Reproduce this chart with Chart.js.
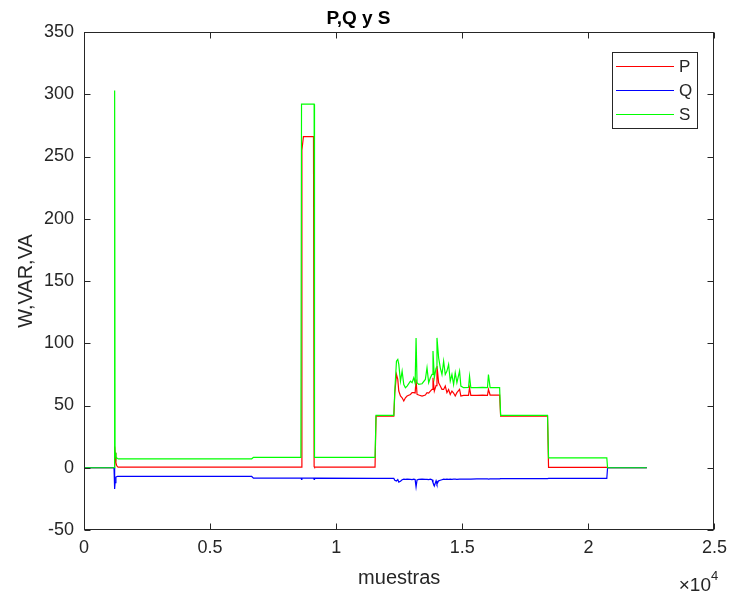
<!DOCTYPE html>
<html>
<head>
<meta charset="utf-8">
<title>P,Q y S</title>
<script src="https://cdn.jsdelivr.net/npm/chart.js@4/dist/chart.umd.min.js"></script>
<style>
  html, body { margin: 0; padding: 0; background: #ffffff; }
  #lienzo { display: block; }
</style>
</head>
<body>
<canvas id="lienzo" width="734" height="598"></canvas>
<script>
// Índice de muestra de cada punto de las curvas
const muestras = [
  0, 1190, 1215, 1232, 1265, 1290, 1330, 1360, 6650, 6720,
  8600, 8625, 8640, 8700, 9100, 9125, 9140, 11540, 11580, 12285,
  12324, 12390, 12442, 12482, 12548, 12614, 12680, 12745, 12811, 12943,
  13009, 13075, 13130, 13167, 13206, 13272, 13404, 13535, 13601, 13667,
  13733, 13800, 13838, 13891, 13960, 13996, 14062, 14128, 14194, 14260,
  14325, 14391, 14457, 14523, 14589, 14655, 14720, 14786, 14892, 14944,
  15050, 15247, 15287, 15339, 15576, 15800, 15998, 16037, 16103, 16480,
  16520, 18380, 18420, 20730, 20760, 22320
];

// Potencia activa P (W)
const potenciaP = [
  0, 0, 17, 12, 4, 2, 0.8, 0.5, 0.5, 0.5,
  0.5, 0.5, 255, 266, 266, 1, 0.5, 0.5, 41.5, 41.5,
  60, 75, 71, 61.6, 57.6, 56.2, 53.6, 56.2, 57.6, 58.9,
  60.3, 60.3, 60, 70.9, 58.9, 58.4, 57.6, 58.4, 60.3, 60,
  61.6, 63, 72.3, 61.6, 66, 81.6, 68.3, 65.6, 63, 62.9,
  65.6, 60.3, 62.9, 58.9, 61.6, 60, 57.6, 60.3, 62.9, 57.6,
  58.1, 58.2, 64.3, 58.1, 58.1, 58.3, 58.1, 62.9, 58.4, 58.4,
  41.5, 41.5, 0.3, 0.3, 0, 0
];

// Potencia reactiva Q (VAR)
const potenciaQ = [
  0, 0, -17, -12, -7.5, -7.2, -7, -7, -7, -8.3,
  -8.3, -9.3, -8.3, -8.3, -8.3, -9.3, -8.3, -8.5, -8.5, -8.6,
  -10, -10.6, -9.5, -11.5, -10.8, -9.6, -9.2, -9.4, -9.2, -9.3,
  -9.5, -9.2, -9.5, -15.4, -9.8, -9.3, -9.2, -9.4, -9.3, -9.5,
  -9.2, -9.6, -11.9, -14.6, -10.5, -13.2, -10.5, -10, -9.6, -9.2,
  -9.3, -9.2, -9.4, -9.2, -9.3, -9.2, -9.2, -9.3, -9.2, -9.2,
  -9.1, -9.1, -9.2, -9.1, -9, -9, -9, -9.1, -9, -9,
  -8.8, -8.8, -8.6, -8.6, 0, 0
];

// Potencia aparente S (VA)
const potenciaS = [
  0, 0, 303, 12, 9, 8, 7.4, 7.2, 7.2, 8.4,
  8.4, 292, 292, 292, 292, 292, 8.4, 8.4, 42, 42,
  62, 85.6, 87, 83, 69.6, 77.6, 66.9, 64.3, 65.6, 69.6,
  68.3, 72.3, 68, 104.3, 68.3, 66.9, 67.5, 70.9, 80.3, 68.3,
  72.3, 75, 93.7, 72.3, 80, 104.3, 88.3, 80.3, 74.9, 85.6,
  74.9, 77.6, 83, 69.6, 74.9, 66.9, 76.3, 68.3, 77.6, 65.6,
  64.3, 64.5, 73.6, 64.3, 64.3, 64.5, 64.3, 74.9, 64.3, 64.3,
  42, 42, 8, 8, 0, 0
];

const etiquetasX = ['0', '0.5', '1', '1.5', '2', '2.5'];
const etiquetasY = ['-50', '0', '50', '100', '150', '200', '250', '300', '350'];

const nombres = ['P', 'Q', 'S'];
const colores = ['#ff0000', '#0000ff', '#00ff00'];
const COLOR_EJES = '#262626';
const FUENTE = "'Liberation Sans', Arial, Helvetica, sans-serif";

const puntos = (valores) => muestras.map((m, i) => ({ x: m, y: valores[i] }));

// Caja completa de los ejes con marcas hacia dentro, leyenda enmarcada y exponente del eje x
const marcoEjes = {
  id: 'marcoEjes',
  afterDatasetsDraw(chart) {
    const { ctx, chartArea: a, scales: { x, y } } = chart;
    ctx.save();
    ctx.strokeStyle = COLOR_EJES;
    ctx.lineWidth = 1;
    const L = Math.round(a.left) + 0.5, R = Math.round(a.right) - 0.5;
    const T = Math.round(a.top) + 0.5, B = Math.round(a.bottom) - 0.5;
    ctx.strokeRect(L, T, R - L, B - T);
    const largo = 6;
    ctx.beginPath();
    x.ticks.forEach(t => {
      const px = Math.round(x.getPixelForValue(t.value)) + 0.5;
      ctx.moveTo(px, B); ctx.lineTo(px, B - largo);
      ctx.moveTo(px, T); ctx.lineTo(px, T + largo);
    });
    y.ticks.forEach(t => {
      const py = Math.round(y.getPixelForValue(t.value)) + 0.5;
      ctx.moveTo(L, py); ctx.lineTo(L + largo, py);
      ctx.moveTo(R, py); ctx.lineTo(R - largo, py);
    });
    ctx.stroke();

    // Exponente ×10^4
    ctx.fillStyle = COLOR_EJES;
    ctx.textBaseline = 'alphabetic';
    ctx.textAlign = 'right';
    ctx.font = '19px ' + FUENTE;
    ctx.fillText('\u00d710', 711, 591);
    ctx.textAlign = 'left';
    ctx.font = '13px ' + FUENTE;
    ctx.fillText('4', 711, 580);

    // Leyenda
    const caja = { x: 612, y: 52, w: 86, h: 77 };
    ctx.fillStyle = '#ffffff';
    ctx.fillRect(caja.x, caja.y, caja.w, caja.h);
    ctx.strokeStyle = COLOR_EJES;
    ctx.strokeRect(caja.x + 0.5, caja.y + 0.5, caja.w - 1, caja.h - 1);
    ctx.font = '17px ' + FUENTE;
    ctx.textBaseline = 'middle';
    ctx.textAlign = 'left';
    chart.data.datasets.forEach((ds, i) => {
      const fy = 66 + i * 24;
      ctx.strokeStyle = ds.borderColor;
      ctx.beginPath();
      ctx.moveTo(616, fy + 0.5); ctx.lineTo(674, fy + 0.5);
      ctx.stroke();
      ctx.fillStyle = COLOR_EJES;
      ctx.fillText(ds.label, 679, fy + 1);
    });
    ctx.restore();
  }
};

new Chart(document.getElementById('lienzo'), {
  type: 'line',
  data: {
    datasets: [potenciaP, potenciaQ, potenciaS].map((v, i) => ({
      label: nombres[i],
      data: puntos(v),
      borderColor: colores[i],
      backgroundColor: colores[i],
      borderWidth: 1.2,
      pointRadius: 0,
      tension: 0,
      fill: false,
      order: 2 - i
    }))
  },
  options: {
    responsive: false,
    animation: false,
    events: [],
    layout: { padding: { left: 0, right: 17, top: 0, bottom: 0 } },
    plugins: {
      legend: { display: false },
      tooltip: { enabled: false },
      title: {
        display: true,
        text: 'P,Q y S',
        color: '#000000',
        font: { family: FUENTE, size: 19, weight: 'bold' },
        padding: { top: 7, bottom: 2.2 }
      }
    },
    scales: {
      x: {
        type: 'linear',
        min: 0, max: 25000,
        grid: { display: false, drawTicks: false },
        border: { display: false },
        afterFit: (s) => { s.height = 68; },
        ticks: {
          stepSize: 5000,
          color: COLOR_EJES,
          font: { family: FUENTE, size: 18 },
          padding: 7,
          maxRotation: 0,
          callback: (v) => etiquetasX[Math.round(v / 5000)]
        },
        title: {
          display: true,
          text: 'muestras',
          color: COLOR_EJES,
          font: { family: FUENTE, size: 20 },
          padding: { top: 0, bottom: 8 }
        }
      },
      y: {
        type: 'linear',
        min: -50, max: 350,
        grid: { display: false, drawTicks: false },
        border: { display: false },
        afterFit: (s) => { s.width = 84; },
        ticks: {
          stepSize: 50,
          color: COLOR_EJES,
          font: { family: FUENTE, size: 18 },
          padding: 10,
          callback: (v) => etiquetasY[Math.round((v + 50) / 50)]
        },
        title: {
          display: true,
          text: 'W,VAR,VA',
          color: COLOR_EJES,
          font: { family: FUENTE, size: 20 },
          padding: { top: 14, bottom: 0 }
        }
      }
    }
  },
  plugins: [marcoEjes]
});
</script>
</body>
</html>
